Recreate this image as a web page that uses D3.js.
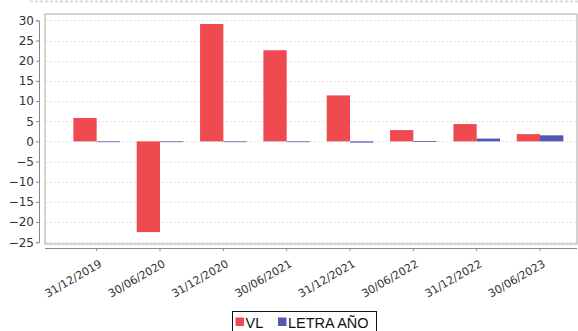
<!DOCTYPE html>
<html>
<head>
<meta charset="utf-8">
<script src="https://cdn.jsdelivr.net/npm/d3@7"></script>
<style>
  html, body { margin: 0; padding: 0; background: #fff; }
  svg { display: block; }
</style>
</head>
<body>
<svg id="chart" width="578" height="331"></svg>
<script>
// Period end dates on the category axis
const categories = ["31/12/2019", "30/06/2020", "31/12/2020", "30/06/2021",
                    "31/12/2021", "30/06/2022", "31/12/2022", "30/06/2023"];
// Series names and values (%)
const seriesNames = ["VL", "LETRA AÑO"];
const vlValues    = [5.8, -22.5, 29.1, 22.6, 11.4, 2.8, 4.3, 1.8];
const letraValues = [0.0, -0.1, -0.1, -0.2, -0.3, 0.05, 0.7, 1.5];
const seriesColors = ["#ef4a50", "#5558b0"];
// Value axis ticks
const yTicks = [30, 25, 20, 15, 10, 5, 0, -5, -10, -15, -20, -25];

const svg = d3.select("#chart");
const font = "'DejaVu Sans', sans-serif";

const plot = { left: 45, top: 14, right: 577, bottom: 244 };

const y = d3.scaleLinear().domain([-25, 30]).range([242.2, 20.4]);
const x0 = d3.scaleBand().domain(categories).range([65, 571.7]).padding(0);
const x1 = d3.scaleBand().domain(seriesNames).range([0, x0.bandwidth()])
  .paddingInner(0).paddingOuter(0.36);

// plot background and frame
svg.append("rect")
  .attr("x", plot.left).attr("y", plot.top)
  .attr("width", plot.right - plot.left).attr("height", plot.bottom - plot.top)
  .attr("fill", "#fff").attr("stroke", "#a8a8a8").attr("stroke-width", 1);

// faint header line at the very top
svg.append("line")
  .attr("x1", 30).attr("x2", 578).attr("y1", 1.5).attr("y2", 1.5)
  .attr("stroke", "#d9d9d9").attr("stroke-width", 2).attr("stroke-dasharray", "3,2");

// horizontal gridlines
svg.append("g").selectAll("line").data(yTicks).join("line")
  .attr("x1", plot.left + 1).attr("x2", plot.right - 1)
  .attr("y1", d => Math.round(y(d)) + 0.5).attr("y2", d => Math.round(y(d)) + 0.5)
  .attr("stroke", "#e4e4e4").attr("stroke-width", 1)
  .attr("stroke-dasharray", "2,2");

// bars
const data = categories.map((c, i) => ({ cat: c, vals: [vlValues[i], letraValues[i]] }));
const groups = svg.append("g").selectAll("g").data(data).join("g")
  .attr("transform", d => `translate(${x0(d.cat)},0)`);
groups.selectAll("rect")
  .data(d => d.vals.map((v, k) => ({ name: seriesNames[k], v, k })))
  .join("rect")
  .attr("x", d => x1(d.name))
  .attr("width", x1.bandwidth())
  .attr("y", d => Math.min(y(d.v), y(0)))
  .attr("height", d => Math.max(Math.abs(y(d.v) - y(0)), 0.8))
  .attr("fill", d => seriesColors[d.k]);

// value axis (offset from frame)
const yAxis = d3.axisLeft(y).tickValues(yTicks).tickSize(3).tickPadding(2);
const yg = svg.append("g").attr("transform", "translate(39,0)").call(yAxis);
yg.select(".domain").attr("stroke", "#8a8a8a");
yg.selectAll(".tick line").attr("stroke", "#8a8a8a");
yg.selectAll("text").attr("font-family", font).attr("font-size", 12).attr("fill", "#333");

// category axis with labels rotated up 30 degrees
const xAxis = d3.axisBottom(x0).tickSize(3).tickSizeOuter(0).tickPadding(3);
const xg = svg.append("g").attr("transform", "translate(0,248)").call(xAxis);
xg.select(".domain").attr("stroke", "#8a8a8a").attr("d", `M${plot.left},0.5H${plot.right}`);
xg.selectAll(".tick line").attr("stroke", "#8a8a8a");
xg.selectAll("text")
  .attr("font-family", font).attr("font-size", 11).attr("fill", "#333")
  .attr("text-anchor", "end")
  .attr("dy", 0).attr("y", 0).attr("x", 0)
  .attr("transform", "translate(6,18) rotate(-30)");

// legend
const lg = svg.append("g").attr("transform", "translate(232,311)");
lg.append("rect").attr("x", 0.5).attr("y", 0.5).attr("width", 144).attr("height", 24)
  .attr("fill", "#fff").attr("stroke", "#111").attr("stroke-width", 1);
const items = [{ name: "VL", x: 3.5 }, { name: "LETRA AÑO", x: 46 }];
items.forEach((it, k) => {
  lg.append("rect").attr("x", it.x).attr("y", 6.5).attr("width", 8.5).attr("height", 8.5)
    .attr("fill", seriesColors[k]);
  lg.append("text").attr("x", it.x + 10).attr("y", 16.5)
    .attr("font-family", "'Liberation Sans', Arial, sans-serif").attr("font-size", 14.5)
    .attr("fill", "#111").text(it.name);
});
</script>
</body>
</html>
